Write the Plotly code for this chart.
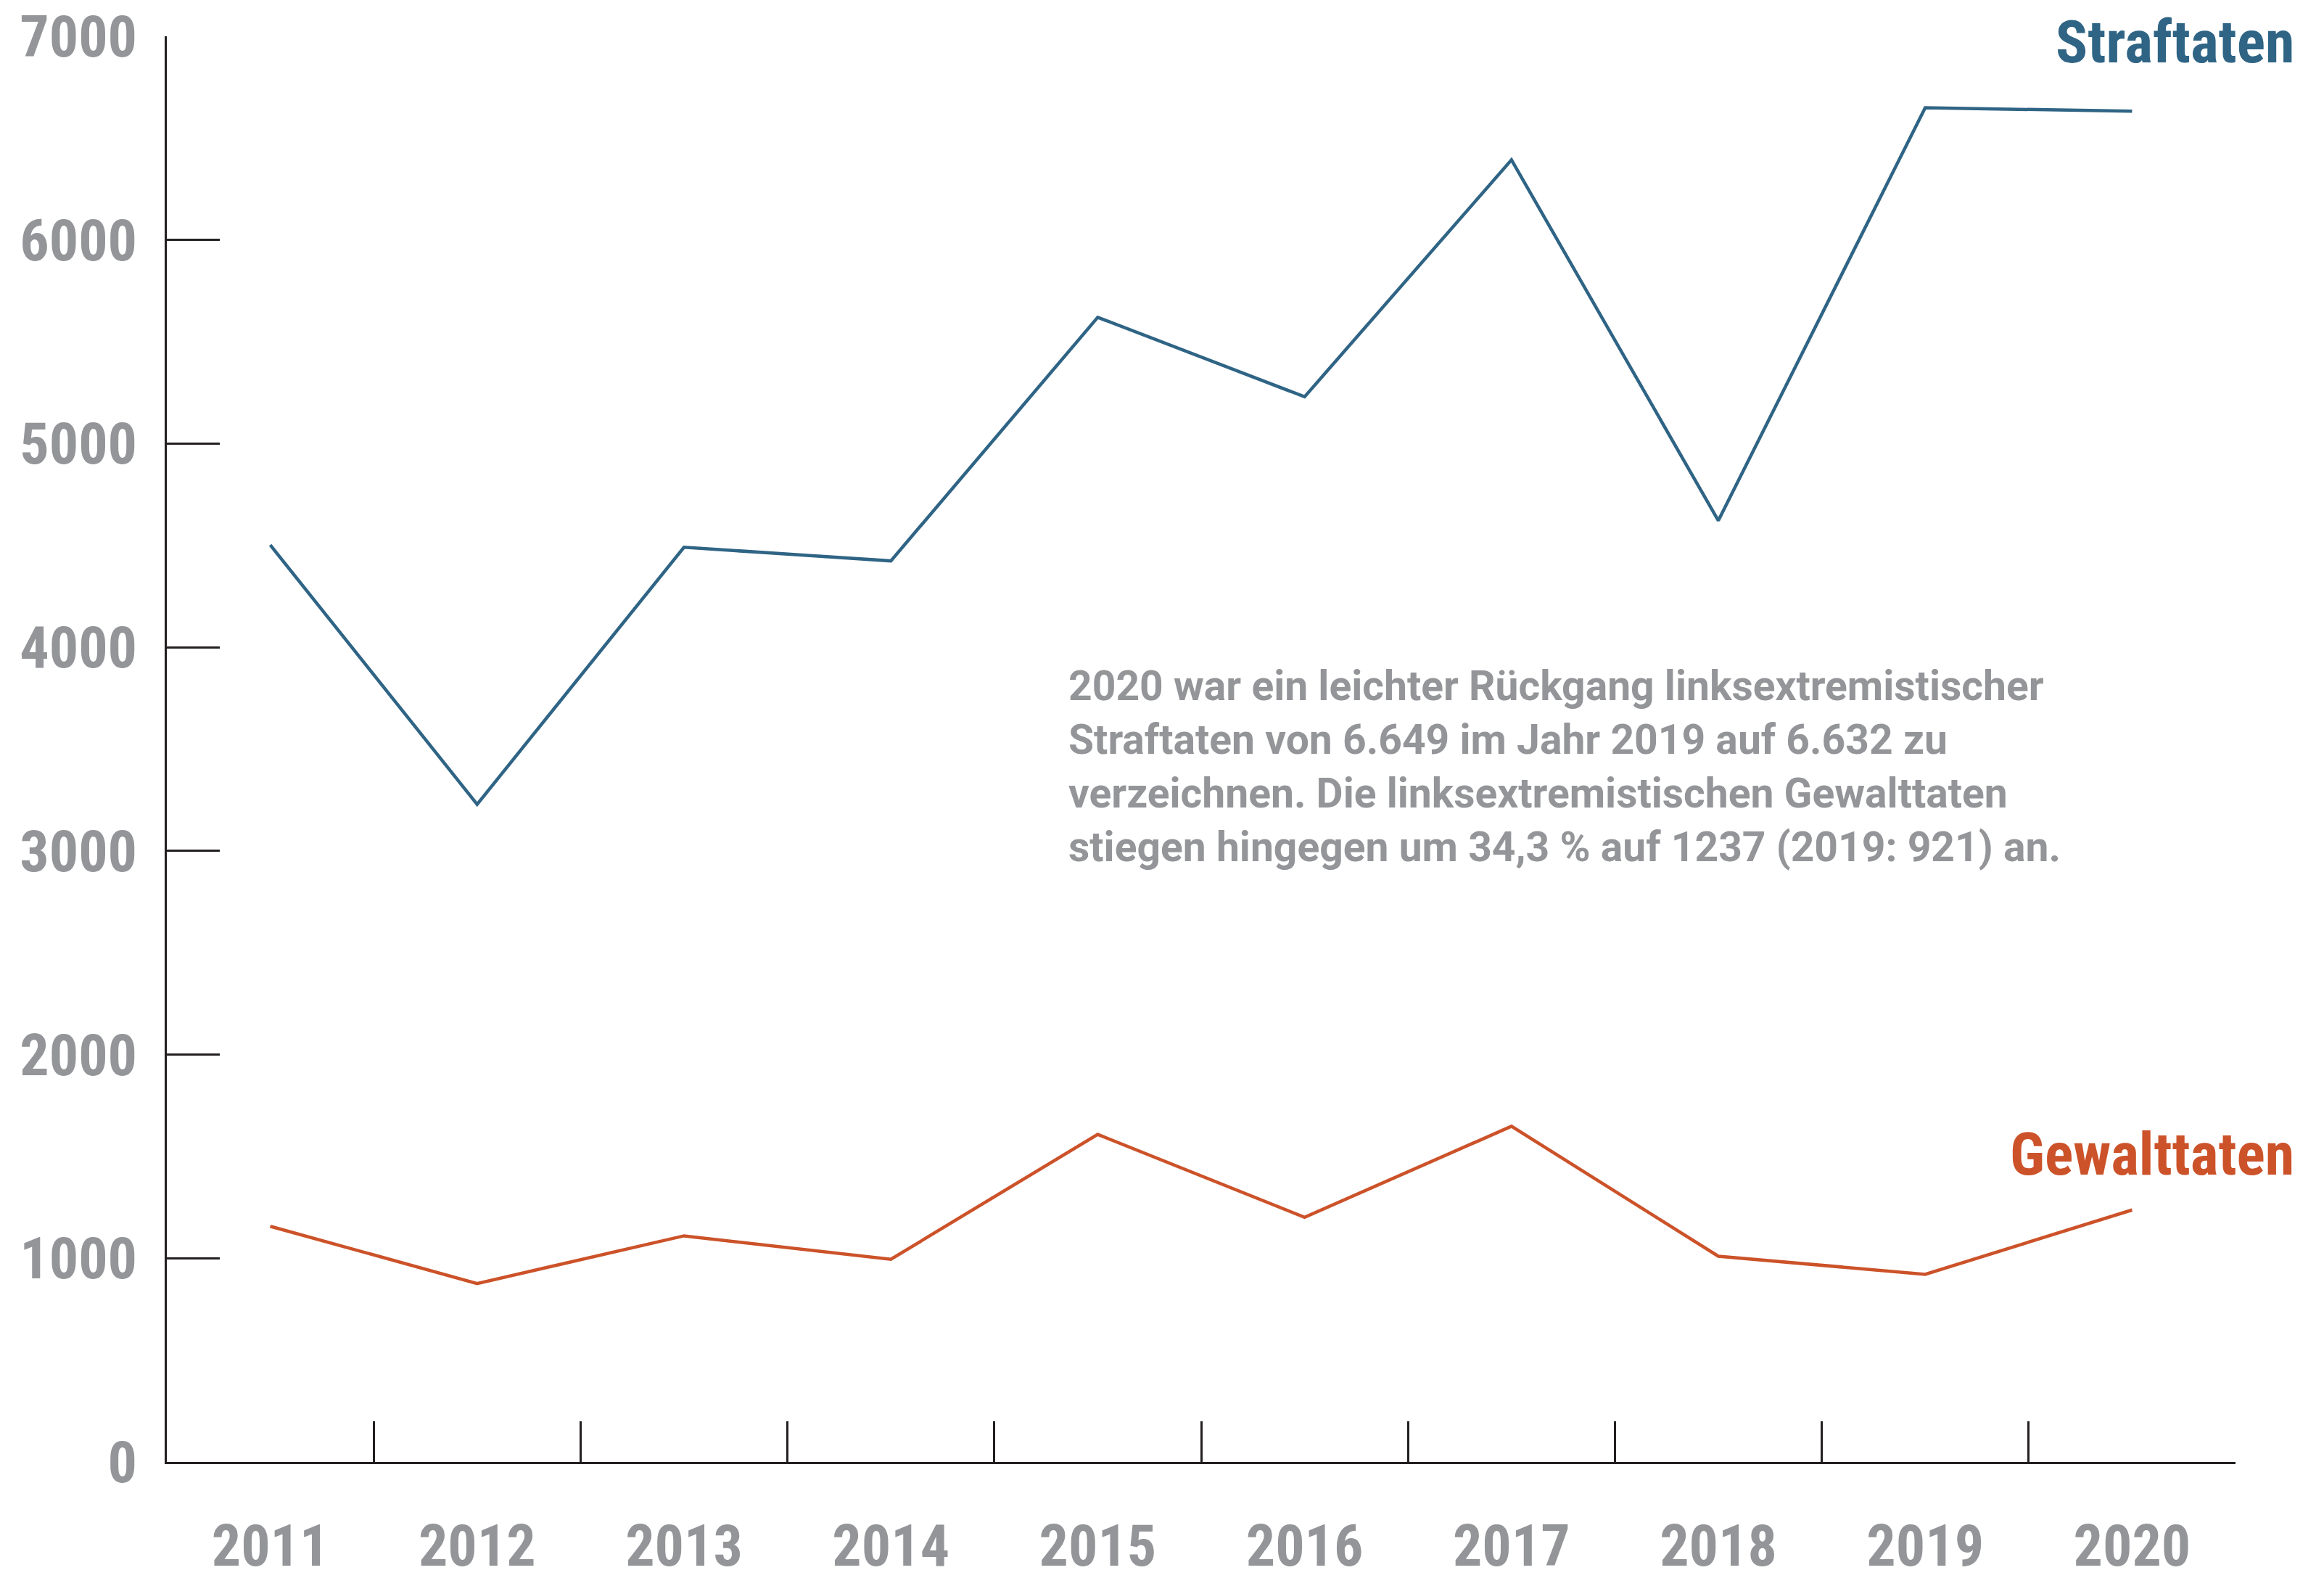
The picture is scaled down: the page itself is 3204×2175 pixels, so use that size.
import plotly.graph_objects as go

years = ["2011", "2012", "2013", "2014", "2015", "2016", "2017", "2018", "2019", "2020"]
straftaten = [4502, 3229, 4491, 4424, 5620, 5230, 6393, 4622, 6649, 6632]
gewalttaten = [1157, 876, 1110, 995, 1608, 1201, 1648, 1010, 921, 1237]
y_ticks = [0, 1000, 2000, 3000, 4000, 5000, 6000, 7000]

BLUE = "#2f6485"
ORANGE = "#cc5229"
GREY = "#939598"
DARK = "#231f20"
FONT = "Roboto Condensed, Liberation Sans Narrow, DejaVu Sans Condensed, Arial Narrow, sans-serif"
NOTE_FONT = "Roboto, Liberation Sans, sans-serif"

note = ("2020 war ein leichter Rückgang linksextremistischer<br>"
        "Straftaten von 6.649 im Jahr 2019 auf 6.632 zu<br>"
        "verzeichnen. Die linksextremistischen Gewalttaten<br>"
        "stiegen hingegen um 34,3 % auf 1237 (2019: 921) an.")

fig = go.Figure()
fig.add_trace(go.Scatter(x=years, y=straftaten, mode="lines", name="Straftaten",
                         line=dict(color=BLUE, width=4.5), hoverinfo="x+y"))
fig.add_trace(go.Scatter(x=years, y=gewalttaten, mode="lines", name="Gewalttaten",
                         line=dict(color=ORANGE, width=4.5), hoverinfo="x+y"))

fig.update_layout(
    width=3204, height=2175,
    margin=dict(l=222, r=130, t=42, b=168),
    paper_bgcolor="white", plot_bgcolor="white",
    showlegend=False,
    font=dict(family=FONT, color=GREY, size=56, weight="bold"),
    xaxis=dict(
        type="category", range=[-0.5, 9.5], tickson="boundaries",
        ticks="inside", ticklen=56, tickwidth=2.5, tickcolor=DARK,
        showline=True, linecolor=DARK, linewidth=3, showgrid=False, zeroline=False,
        tickfont=dict(family=FONT, size=80, color=GREY, weight="bold"),
        ticklabelstandoff=44, automargin=False, ticklabeloverflow="allow",
    ),
    yaxis=dict(
        range=[0, 7000], tickmode="array", tickvals=y_ticks,
        ticktext=[str(v) for v in y_ticks],
        ticks="inside", ticklen=73, tickwidth=2.5, tickcolor=DARK,
        showline=True, linecolor=DARK, linewidth=3, showgrid=False, zeroline=False,
        tickfont=dict(family=FONT, size=80, color=GREY, weight="bold"),
        ticklabelstandoff=22, automargin=False, ticklabeloverflow="allow",
    ),
)

fig.add_annotation(text="Straftaten", xref="paper", yref="y", x=1.029, y=6970,
                   xanchor="right", yanchor="middle", showarrow=False,
                   font=dict(family=FONT, size=82, color=BLUE, weight="bold"))
fig.add_annotation(text="Gewalttaten", xref="paper", yref="y", x=1.029, y=1512,
                   xanchor="right", yanchor="middle", showarrow=False,
                   font=dict(family=FONT, size=82, color=ORANGE, weight="bold"))
fig.add_annotation(text=note, xref="paper", yref="y", x=0.435, y=3413,
                   xanchor="left", yanchor="middle", align="left", showarrow=False,
                   font=dict(family=NOTE_FONT, size=57, color=GREY, weight="bold"))

fig.write_html("out.html")
